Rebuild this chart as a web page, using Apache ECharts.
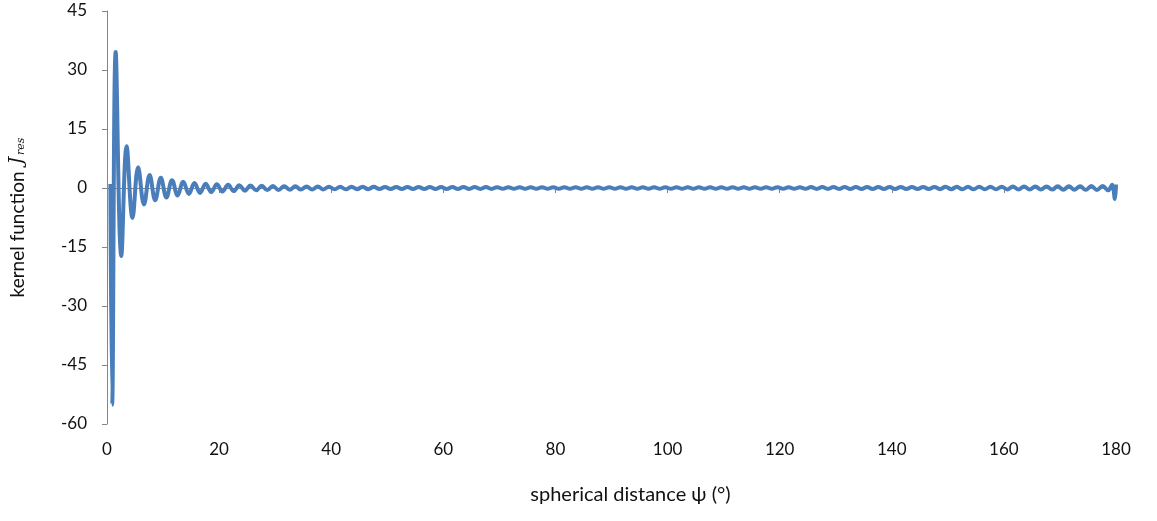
<!DOCTYPE html>
<html>
<head>
<meta charset="utf-8">
<script src="https://cdn.jsdelivr.net/npm/echarts@6/dist/echarts.min.js"></script>
<style>
html,body{margin:0;padding:0;background:#fff;}
#chart{width:1157px;height:521px;}
</style>
</head>
<body>
<div id="chart"></div>
<script>
// spherical distance psi (degrees) at the turning points of the kernel curve
const psi = [
  0.6, 0.92, 1.55, 2.55, 3.5, 4.55, 5.55, 6.6,
  7.6, 8.6, 9.6, 10.6, 11.6, 12.6, 13.6, 14.6, 15.6, 16.6,
  17.6, 18.6, 19.6, 20.6, 21.6, 22.6, 23.6, 24.6, 25.6, 26.6,
  27.6, 28.6, 29.6, 30.6, 31.6, 32.6, 33.6, 34.6, 35.6, 36.6,
  37.6, 38.6, 39.6, 40.6, 41.6, 42.6, 43.6, 44.6, 45.6, 46.6,
  47.6, 48.6, 49.6, 50.6, 51.6, 52.6, 53.6, 54.6, 55.6, 56.6,
  57.6, 58.6, 59.6, 60.6, 61.6, 62.6, 63.6, 64.6, 65.6, 66.6,
  67.6, 68.6, 69.6, 70.6, 71.6, 72.6, 73.6, 74.6, 75.6, 76.6,
  77.6, 78.6, 79.6, 80.6, 81.6, 82.6, 83.6, 84.6, 85.6, 86.6,
  87.6, 88.6, 89.6, 90.6, 91.6, 92.6, 93.6, 94.6, 95.6, 96.6,
  97.6, 98.6, 99.6, 100.6, 101.6, 102.6, 103.6, 104.6, 105.6, 106.6,
  107.6, 108.6, 109.6, 110.6, 111.6, 112.6, 113.6, 114.6, 115.6, 116.6,
  117.6, 118.6, 119.6, 120.6, 121.6, 122.6, 123.6, 124.6, 125.6, 126.6,
  127.6, 128.6, 129.6, 130.6, 131.6, 132.6, 133.6, 134.6, 135.6, 136.6,
  137.6, 138.6, 139.6, 140.6, 141.6, 142.6, 143.6, 144.6, 145.6, 146.6,
  147.6, 148.6, 149.6, 150.6, 151.6, 152.6, 153.6, 154.6, 155.6, 156.6,
  157.6, 158.6, 159.6, 160.6, 161.6, 162.6, 163.6, 164.6, 165.6, 166.6,
  167.6, 168.6, 169.6, 170.6, 171.6, 172.6, 173.6, 174.6, 175.6, 176.6,
  177.6, 178.6, 179.3, 179.8, 180
];
// kernel function J_res values
const jres = [
  1.0, -55.1, 34.6, -17.3, 10.6, -7.6, 5.3, -4.2,
  3.3, -3.1, 2.6, -2.4, 2.0, -1.9, 1.6, -1.5, 1.3, -1.25,
  1.1, -1.05, 0.95, -0.9, 0.82, -0.78, 0.72, -0.68, 0.62, -0.6,
  0.55, -0.53, 0.5, -0.48, 0.45, -0.44, 0.42, -0.4, 0.38, -0.37,
  0.36, -0.35, 0.34, -0.33, 0.32, -0.32, 0.31, -0.3, 0.3, -0.29,
  0.29, -0.28, 0.28, -0.27, 0.27, -0.27, 0.26, -0.26, 0.26, -0.25,
  0.25, -0.25, 0.25, -0.24, 0.24, -0.24, 0.24, -0.23, 0.23, -0.23,
  0.23, -0.23, 0.22, -0.22, 0.22, -0.22, 0.22, -0.22, 0.21, -0.21,
  0.21, -0.21, 0.21, -0.21, 0.21, -0.21, 0.2, -0.2, 0.2, -0.2,
  0.2, -0.2, 0.2, -0.2, 0.2, -0.2, 0.2, -0.2, 0.2, -0.2,
  0.2, -0.2, 0.2, -0.2, 0.2, -0.2, 0.2, -0.2, 0.2, -0.2,
  0.2, -0.2, 0.2, -0.2, 0.21, -0.21, 0.21, -0.21, 0.21, -0.21,
  0.21, -0.21, 0.22, -0.22, 0.22, -0.22, 0.22, -0.22, 0.23, -0.23,
  0.23, -0.23, 0.23, -0.23, 0.24, -0.24, 0.24, -0.24, 0.25, -0.25,
  0.25, -0.25, 0.26, -0.26, 0.26, -0.26, 0.27, -0.27, 0.28, -0.28,
  0.28, -0.29, 0.29, -0.3, 0.3, -0.31, 0.31, -0.32, 0.32, -0.33,
  0.33, -0.34, 0.34, -0.35, 0.36, -0.37, 0.37, -0.38, 0.39, -0.4,
  0.4, -0.41, 0.42, -0.43, 0.44, -0.45, 0.46, -0.47, 0.48, -0.5,
  0.52, -0.6, 0.8, -2.8, 0.9
];
const xTicks = [0, 20, 40, 60, 80, 100, 120, 140, 160, 180];
const yTicks = [-60, -45, -30, -15, 0, 15, 30, 45];

const points = psi.map((p, i) => [p, jres[i]]);
const chart = echarts.init(document.getElementById('chart'), null, {renderer: 'canvas'});
const axisFont = 'Lato, "Liberation Sans", sans-serif';
chart.setOption({
  animation: false,
  backgroundColor: '#ffffff',
  grid: {left: 104, right: 41, top: 11, bottom: 97, containLabel: false},
  xAxis: {
    type: 'value',
    min: xTicks[0], max: xTicks[xTicks.length - 1], interval: 20,
    name: 'spherical distance ψ (°)',
    nameLocation: 'middle', nameGap: 61,
    nameTextStyle: {fontFamily: axisFont, fontSize: 20, color: '#111', padding: [0, 0, 0, 38]},
    axisLine: {lineStyle: {color: '#868686', width: 1}},
    axisTick: {show: true, length: 5, lineStyle: {color: '#868686'}},
    axisLabel: {fontFamily: axisFont, fontSize: 17, color: '#111', margin: 17},
    splitLine: {show: false}
  },
  yAxis: {
    type: 'value',
    min: yTicks[0], max: yTicks[yTicks.length - 1], interval: 15,
    name: '{t|kernel function }{j|J}{s|res}',
    nameLocation: 'middle', nameGap: 80, nameRotate: 90,
    nameTextStyle: {
      rich: {
        t: {fontFamily: axisFont, fontSize: 19, color: '#111'},
        j: {fontFamily: '"DejaVu Serif", serif', fontStyle: 'italic', fontSize: 19, color: '#111', padding: [0, 2, 0, 2]},
        s: {fontFamily: '"DejaVu Serif", serif', fontStyle: 'italic', fontSize: 11, color: '#111', verticalAlign: 'bottom', padding: [8, 0, 0, 0]}
      }
    },
    axisLine: {show: true, lineStyle: {color: '#868686', width: 1}},
    axisTick: {show: true, length: 5, lineStyle: {color: '#868686'}},
    axisLabel: {fontFamily: axisFont, fontSize: 17, color: '#111', margin: 20},
    splitLine: {show: false}
  },
  series: [{
    type: 'line',
    data: points,
    smooth: 0.4,
    showSymbol: false,
    lineStyle: {color: '#4a7ebb', width: 4},
    itemStyle: {color: '#4a7ebb'}
  }]
});
</script>
</body>
</html>
